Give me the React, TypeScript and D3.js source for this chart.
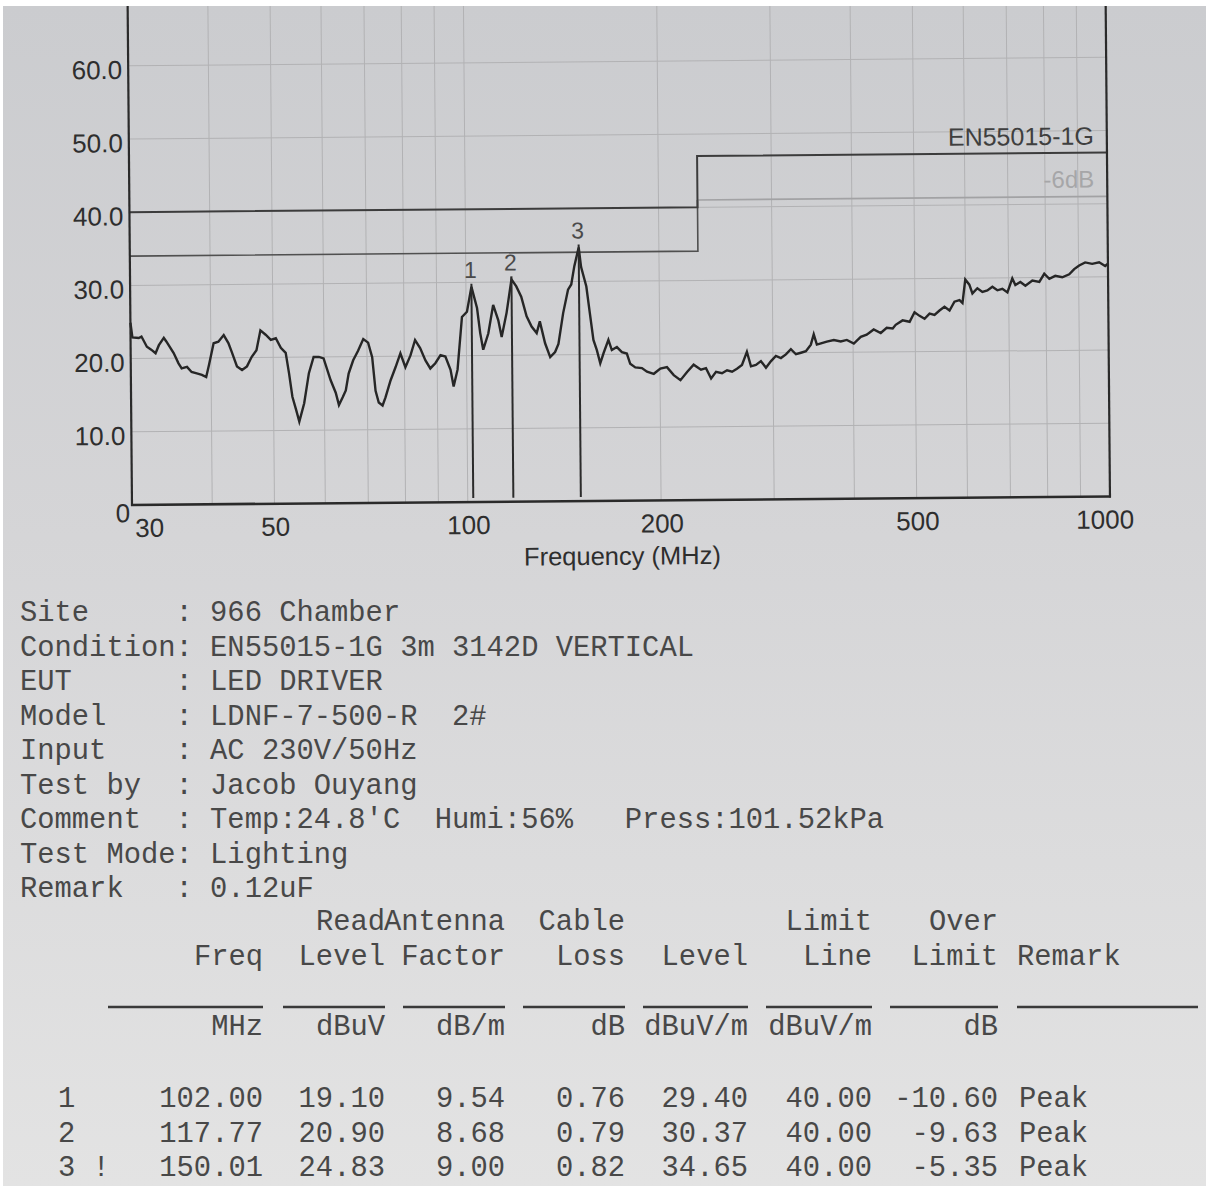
import React from 'react';
import * as d3 from 'd3';

// ---------- Data ----------
const traceFreqMHz = [
  30.0, 30.2, 30.9, 31.2, 31.8, 32.3, 32.8, 33.2, 33.8, 34.1, 35.0, 35.6, 36.0, 36.7, 37.3, 38.0, 38.7, 39.3, 39.7,
  40.4, 41.1, 41.9, 42.6, 43.1, 43.9, 44.7, 45.5, 46.3, 47.1, 47.8, 48.7, 49.6, 50.5, 51.4, 52.3, 52.9, 53.5, 54.2,
  54.8, 55.8, 56.8, 57.8, 58.9, 59.9, 61.4, 62.5, 63.2, 64.1, 64.8, 65.5, 66.6, 67.8, 69.1, 70.3, 71.3, 72.1, 72.9,
  73.9, 74.7, 76.1, 77.5, 78.9, 80.3, 81.8, 83.2, 84.7, 86.3, 87.8, 89.4, 91.1, 92.7, 94.4, 95.4, 96.8, 98.5, 100.3,
  102.0, 104.0, 105.1, 106.2, 108.2, 110.2, 112.2, 113.5, 115.6, 117.77, 119.8, 121.9, 124.2, 126.4, 128.7, 130.2,
  132.6, 135.0, 137.4, 139.1, 141.6, 144.2, 145.9, 147.6, 150.01, 151.2, 154.0, 155.8, 157.7, 159.6, 161.5, 163.5,
  166.4, 168.4, 171.5, 174.6, 177.7, 179.8, 183.1, 187.5, 190.9, 195.6, 200.3, 205.1, 210.1, 215.2, 220.4, 225.7,
  231.7, 235.9, 240.2, 244.5, 249.8, 254.4, 259.0, 263.6, 268.4, 273.3, 277.2, 282.2, 287.3, 292.5, 297.9, 303.2,
  308.7, 314.3, 320.0, 325.8, 331.7, 337.7, 343.8, 347.5, 351.3, 357.6, 364.1, 373.4, 382.8, 391.2, 401.1, 411.3,
  420.2, 430.9, 441.9, 451.5, 461.3, 466.3, 478.1, 490.3, 499.1, 508.1, 517.3, 526.7, 536.2, 545.9, 555.8, 565.9,
  576.1, 586.6, 592.9, 599.3, 608.0, 614.6, 625.7, 637.0, 648.5, 660.3, 672.2, 684.4, 696.8, 709.4, 717.1, 730.1,
  743.3, 762.2, 781.5, 795.6, 810.0, 827.6, 848.6, 870.2, 885.9, 902.0, 921.6, 945.0, 969.0, 990.1, 1000.0,
];
const traceLevelDb = [
  24.9, 22.9, 22.8, 23.0, 21.6, 21.2, 20.7, 21.8, 22.8, 22.3, 20.7, 19.3, 18.6, 18.8, 18.1, 17.9, 17.7, 17.4, 19.0,
  22.0, 22.2, 23.1, 22.0, 20.8, 18.8, 18.3, 18.8, 20.1, 21.0, 23.7, 23.1, 22.4, 22.6, 21.3, 20.6, 17.8, 14.6, 12.8,
  11.2, 13.7, 17.8, 20.0, 20.0, 19.8, 16.8, 15.1, 13.4, 14.5, 15.4, 17.7, 19.5, 20.8, 22.4, 21.9, 19.9, 15.3, 13.7,
  13.3, 14.4, 16.7, 18.5, 20.4, 18.5, 20.1, 22.2, 21.1, 19.4, 18.3, 19.0, 20.1, 19.9, 18.1, 15.8, 18.1, 25.3, 26.0,
  29.4, 26.5, 23.1, 20.8, 23.0, 26.9, 24.8, 22.5, 25.8, 30.37, 29.4, 28.0, 25.3, 23.9, 23.0, 24.6,
  21.6, 19.7, 20.4, 21.5, 25.7, 28.9, 29.6, 32.1, 34.65, 32.0, 29.3, 25.7, 22.0, 20.6, 18.8, 20.2,
  22.0, 20.6, 21.0, 20.3, 20.1, 18.7, 18.2, 18.1, 17.6, 17.3, 18.0, 18.2, 17.1, 16.4, 17.5, 18.5,
  17.8, 18.0, 16.6, 17.5, 17.3, 17.7, 17.5, 17.9, 18.4, 20.2, 18.2, 18.4, 18.9, 18.0, 18.9, 19.6,
  19.3, 19.8, 20.5, 19.8, 20.0, 20.2, 21.1, 22.5, 21.1, 21.3, 21.5, 21.7, 21.5, 21.7, 21.2, 22.1,
  22.4, 23.1, 22.6, 23.3, 23.2, 23.7, 24.3, 24.1, 25.4, 24.9, 24.5, 25.2, 25.0, 25.6, 26.1, 25.6,
  26.8, 27.0, 26.6, 29.8, 29.1, 27.9, 28.6, 28.1, 28.3, 28.8, 28.3, 28.5, 28.0, 29.9, 29.0, 29.4,
  28.9, 29.6, 29.4, 30.5, 29.8, 30.2, 30.0, 30.4, 31.1, 31.6, 32.0, 31.8, 32.0, 31.5, 31.8,
];

const yTickValues = [0, 10, 20, 30, 40, 50, 60];
const xTickLabels = [30, 50, 100, 200, 500, 1000];
const gridFreqsMHz = [40, 50, 60, 70, 80, 90, 100, 200, 300, 400, 500, 600, 700, 800, 900];
const gridLevelsDb = [10, 20, 30, 40, 50, 60, 70];

const limitFreqMHz = [30, 230, 230, 1000];
const limitDb = [40, 40, 47, 47];
const limitMinus6Db = [34, 34, 41, 41];
const limitName = 'EN55015-1G';
const limitMinus6Name = '-6dB';
const xAxisTitle = 'Frequency (MHz)';

const markerNo = ['1', '2', '3'];
const markerRowLabel = ['1', '2', '3 !'];
const markerFreqMHz = [102.0, 117.77, 150.01];
const readLevelDbuV = [19.1, 20.9, 24.83];
const antennaFactorDbM = [9.54, 8.68, 9.0];
const cableLossDb = [0.76, 0.79, 0.82];
const markerLevelDbuVm = [29.4, 30.37, 34.65];
const limitLineDbuVm = [40, 40, 40];
const overLimitDb = [-10.6, -9.63, -5.35];
const remarkText = ['Peak', 'Peak', 'Peak'];

const infoKeys = ['Site', 'Condition', 'EUT', 'Model', 'Input', 'Test by', 'Comment', 'Test Mode', 'Remark'];
const infoValues = [
  '966 Chamber',
  'EN55015-1G 3m 3142D VERTICAL',
  'LED DRIVER',
  'LDNF-7-500-R  2#',
  'AC 230V/50Hz',
  'Jacob Ouyang',
  "Temp:24.8'C  Humi:56%   Press:101.52kPa",
  'Lighting',
  '0.12uF',
];

const headerRow1 = ['', 'Read', 'Antenna', 'Cable', '', 'Limit', 'Over'];
const headerRow2 = ['Freq', 'Level', 'Factor', 'Loss', 'Level', 'Line', 'Limit'];
const unitRow = ['MHz', 'dBuV', 'dB/m', 'dB', 'dBuV/m', 'dBuV/m', 'dB'];
const remarkHeader = 'Remark';

// ---------- Layout ----------
const W = 1206;
const H = 1189;
const PL = 132;
const PR = 1110;
const PB = 505;
const SANS = "'Liberation Sans', Arial, sans-serif";
const MONO = "'Liberation Mono', 'Courier New', monospace";
const INK = '#2e2e2e';
const TXT = '#484848';

const colRight = [263, 385, 505, 625, 748, 872, 998];
const colLeft = [108, 283, 403, 523, 643, 766, 890];
const remarkX = 1019;

export default function App() {
  const x = d3.scaleLog().domain([30, 1000]).range([PL, PR]);
  const y = d3.scaleLinear().domain([0, 60]).range([PB, PB - 439.2]);

  const trace = traceFreqMHz.map((f, i) => ({ f, v: traceLevelDb[i] }));
  const line = d3
    .line<{ f: number; v: number }>()
    .x((d) => x(d.f))
    .y((d) => y(d.v));

  const limitPts = limitFreqMHz.map((f, i) => ({ f, v: limitDb[i] }));
  const lim6Left = limitFreqMHz.slice(0, 3).map((f, i) => ({ f, v: limitMinus6Db[i] }));
  const lim6Right = limitFreqMHz.slice(2).map((f, i) => ({ f, v: limitMinus6Db[i + 2] }));

  const fmt1 = d3.format('.1f');
  const fmt2 = (v: number) => v.toFixed(2);
  const top = -40;

  const rows = markerFreqMHz.map((f, i) => [
    fmt2(f),
    fmt2(readLevelDbuV[i]),
    fmt2(antennaFactorDbM[i]),
    fmt2(cableLossDb[i]),
    fmt2(markerLevelDbuVm[i]),
    fmt2(limitLineDbuVm[i]),
    fmt2(overLimitDb[i]),
  ]);

  return (
    <svg
      width={W}
      height={H}
      viewBox={`0 0 ${W} ${H}`}
      style={{ position: 'absolute', left: 0, top: 0, background: '#ffffff' }}
    >
      <defs>
        <linearGradient id="paper" x1="0" y1="0" x2="0" y2="1">
          <stop offset="0" stopColor="#cbcccf" />
          <stop offset="0.45" stopColor="#d5d5d7" />
          <stop offset="1" stopColor="#e3e3e3" />
        </linearGradient>
        <clipPath id="photo">
          <rect x={3} y={6} width={1203} height={1180} />
        </clipPath>
      </defs>
      <rect x={3} y={6} width={1203} height={1180} fill="url(#paper)" />

      <g clipPath="url(#photo)">
        <g transform={`rotate(-0.5, ${PL}, ${PB})`}>
          {/* grid */}
          {gridFreqsMHz.map((f) => (
            <line key={'gx' + f} x1={x(f)} x2={x(f)} y1={top} y2={PB} stroke="#b2b2b4" strokeWidth={1} />
          ))}
          {gridLevelsDb.map((v) => (
            <line key={'gy' + v} x1={PL} x2={PR} y1={y(v)} y2={y(v)} stroke="#b2b2b4" strokeWidth={1} />
          ))}

          {/* limit lines */}
          <path d={line(lim6Left) || ''} fill="none" stroke="#505050" strokeWidth={1.6} />
          <path d={line(lim6Right) || ''} fill="none" stroke="#a2a2a4" strokeWidth={1.6} />
          <path d={line(limitPts) || ''} fill="none" stroke="#3c3c3c" strokeWidth={2} />
          <text x={1097} y={y(limitDb[3]) - 8} textAnchor="end" fontFamily={SANS} fontSize={25} fill="#3f3f3f">
            {limitName}
          </text>
          <text
            x={1097}
            y={y(limitMinus6Db[3]) - 9}
            textAnchor="end"
            fontFamily={SANS}
            fontSize={24}
            fill="#a6a6a8"
          >
            {limitMinus6Name}
          </text>

          {/* trace */}
          <path d={line(trace) || ''} fill="none" stroke="#262626" strokeWidth={2.4} strokeLinejoin="miter" />

          {/* markers */}
          {markerFreqMHz.map((f, i) => (
            <g key={'m' + i}>
              <line
                x1={x(f)}
                x2={x(f)}
                y1={y(markerLevelDbuVm[i]) - 3}
                y2={y(0) - 4}
                stroke="#2b2b2b"
                strokeWidth={2}
              />
              <text
                x={x(f) - 1}
                y={y(markerLevelDbuVm[i]) - 9}
                textAnchor="middle"
                fontFamily={SANS}
                fontSize={23}
                fill="#4a4a4a"
              >
                {markerNo[i]}
              </text>
            </g>
          ))}

          {/* axes */}
          <line x1={PL} x2={PL} y1={top} y2={PB + 1} stroke="#2a2a2a" strokeWidth={2.2} />
          <line x1={PR} x2={PR} y1={top} y2={PB + 1} stroke="#2a2a2a" strokeWidth={2.2} />
          <line x1={PL - 1} x2={PR + 1} y1={PB} y2={PB} stroke="#2a2a2a" strokeWidth={2.6} />

          {/* y tick labels */}
          {yTickValues.map((v) =>
            v === 0 ? (
              <text key={'yl' + v} x={130} y={y(0) + 17} textAnchor="end" fontFamily={SANS} fontSize={26} fill={INK}>
                0
              </text>
            ) : (
              <text key={'yl' + v} x={126} y={y(v) + 13} textAnchor="end" fontFamily={SANS} fontSize={26} fill={INK}>
                {fmt1(v)}
              </text>
            )
          )}

          {/* x tick labels */}
          {xTickLabels.map((f, i) => (
            <text
              key={'xl' + f}
              x={i === 0 ? x(f) + 3 : i === xTickLabels.length - 1 ? x(f) - 5 : x(f) + 1}
              y={537}
              textAnchor={i === 0 ? 'start' : 'middle'}
              fontFamily={SANS}
              fontSize={26}
              fill={INK}
            >
              {f}
            </text>
          ))}
          <text x={622} y={569} textAnchor="middle" fontFamily={SANS} fontSize={25.5} fill={INK}>
            {xAxisTitle}
          </text>
        </g>
      </g>

      {/* info block */}
      {infoKeys.map((k, i) => (
        <text
          key={'info' + i}
          x={20}
          y={621 + i * 34.5}
          fontFamily={MONO}
          fontSize={28.8}
          fill={TXT}
          style={{ whiteSpace: 'pre' }}
        >
          {k.padEnd(9, ' ') + ': ' + infoValues[i]}
        </text>
      ))}

      {/* table header */}
      {headerRow1.map((h, i) =>
        h ? (
          <text key={'h1' + i} x={colRight[i]} y={930} textAnchor="end" fontFamily={MONO} fontSize={28.8} fill={TXT}>
            {h}
          </text>
        ) : null
      )}
      {headerRow2.map((h, i) => (
        <text key={'h2' + i} x={colRight[i]} y={965} textAnchor="end" fontFamily={MONO} fontSize={28.8} fill={TXT}>
          {h}
        </text>
      ))}
      <text x={remarkX - 2} y={965} fontFamily={MONO} fontSize={28.8} fill={TXT}>
        {remarkHeader}
      </text>
      {colRight.map((r, i) => (
        <line key={'ul' + i} x1={colLeft[i]} x2={r} y1={1007} y2={1007} stroke="#3a3a3a" strokeWidth={2.4} />
      ))}
      <line x1={1017} x2={1198} y1={1007} y2={1007} stroke="#3a3a3a" strokeWidth={2.4} />
      {unitRow.map((u, i) => (
        <text key={'u' + i} x={colRight[i]} y={1035} textAnchor="end" fontFamily={MONO} fontSize={28.8} fill={TXT}>
          {u}
        </text>
      ))}

      {/* table rows */}
      {rows.map((cells, r) => (
        <g key={'row' + r}>
          <text
            x={58}
            y={1107 + r * 34.5}
            fontFamily={MONO}
            fontSize={28.8}
            fill={TXT}
            style={{ whiteSpace: 'pre' }}
          >
            {markerRowLabel[r]}
          </text>
          {cells.map((c, i) => (
            <text
              key={'c' + i}
              x={colRight[i]}
              y={1107 + r * 34.5}
              textAnchor="end"
              fontFamily={MONO}
              fontSize={28.8}
              fill={TXT}
            >
              {c}
            </text>
          ))}
          <text x={remarkX} y={1107 + r * 34.5} fontFamily={MONO} fontSize={28.8} fill={TXT}>
            {remarkText[r]}
          </text>
        </g>
      ))}
    </svg>
  );
}
